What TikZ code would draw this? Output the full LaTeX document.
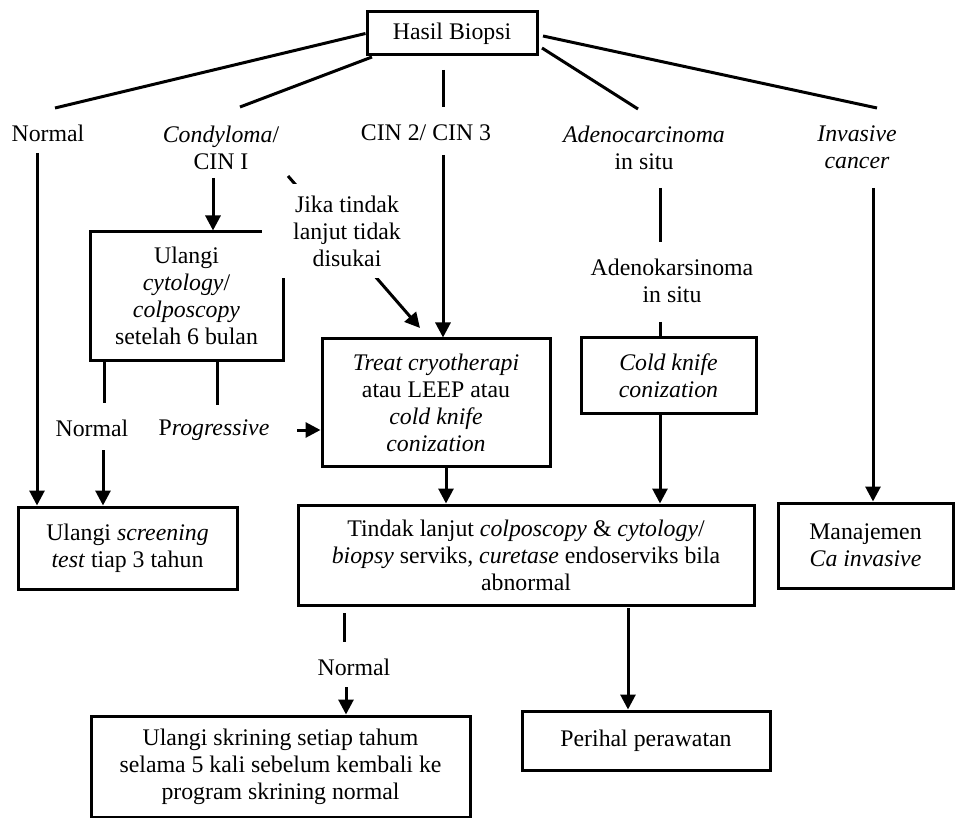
\documentclass[tikz,border=0pt]{standalone}
\usepackage{fontspec}
\setmainfont{Liberation Serif}
\usetikzlibrary{arrows.meta}

\begin{document}
\begin{tikzpicture}[x=1pt,y=-1pt,
  every node/.style={font=\fontsize{23.8}{27}\selectfont, align=center, inner sep=0pt},
  box/.style={draw, line width=3pt, fill=white},
  link/.style={line width=3pt},
  arr/.style={line width=3pt, -{Triangle[length=15pt,width=15pt]}},
]
\useasboundingbox (0,0) rectangle (956,818);

% ---- boxes ----
\node[box, minimum width=170pt, minimum height=43pt] (hasil) at (452,33.5) {Hasil Biopsi};
\node[box, minimum width=193pt, minimum height=128pt] (ulcyt) at (186.5,296)
  {Ulangi\\ \textit{cytology}/\\ \textit{colposcopy}\\ setelah 6 bulan};
\node[box, minimum width=228pt, minimum height=127pt] (treat) at (436,402.5)
  {\textit{Treat cryotherapi}\\ atau LEEP atau\\ \textit{cold knife}\\ \textit{conization}};
\node[box, minimum width=175pt, minimum height=75pt] (cold) at (668.5,375.5)
  {\textit{Cold knife}\\ \textit{conization}};
\node[box, minimum width=219pt, minimum height=82pt] (scr) at (127.5,548)
  {Ulangi \textit{screening}\\ \textit{test} tiap 3 tahun};
\node[box, minimum width=456pt, minimum height=100pt] (tindak) at (526,555)
  {Tindak lanjut \textit{colposcopy} \& \textit{cytology}/\\ \textit{biopsy} serviks, \textit{curetase} endoserviks bila\\ abnormal};
\node[box, minimum width=175pt, minimum height=85pt] (manaj) at (865.5,545.5)
  {Manajemen\\ \textit{Ca invasive}};
\node[box, minimum width=379pt, minimum height=101pt] (skrin) at (280.5,766.5)
  {Ulangi skrining setiap tahum\\ selama 5 kali sebelum kembali ke\\ program skrining normal};
\node[box, minimum width=248pt, minimum height=59pt] (perihal) at (646,740.5) {Perihal perawatan};

% ---- plain labels ----
\node (normTop) at (48,133) {Normal};
\node (condy) at (221,147.5) {\textit{Condyloma}/\\ CIN I};
\node (cin) at (426,133) {CIN 2/ CIN 3};
\node (adeno) at (644,147.5) {\textit{Adenocarcinoma}\\ in situ};
\node (inv) at (857,147.5) {\textit{Invasive}\\ \textit{cancer}};
\node (adenok) at (672,281) {Adenokarsinoma\\ in situ};
\node (normMid) at (92,428) {Normal};
\node (prog) at (214,430) {P\textit{rogressive}};
\node (normBot) at (354,667) {Normal};

% ---- end points of the connectors ----
\coordinate (hN) at (55,108);
\coordinate (hCs) at (372,57);
\coordinate (hC) at (240,107);
\coordinate (hMs) at (443,70);
\coordinate (hM) at (443,107);
\coordinate (hAs) at (542,48);
\coordinate (hA) at (638,109);
\coordinate (hIs) at (543,36);
\coordinate (hI) at (877,108);

\coordinate (nT) at (37,153);
\coordinate (cT) at (213,178);
\coordinate (mT) at (443,155);
\coordinate (aT) at (660,188);
\coordinate (aB) at (660,242);
\coordinate (kT) at (660,322);
\coordinate (iT) at (873,188);
\coordinate (dS) at (288,176);
\coordinate (dE) at (420,328);

\coordinate (uL) at (104,360);
\coordinate (uLe) at (104,403);
\coordinate (nM) at (103,450);
\coordinate (uR) at (217,360);
\coordinate (uRe) at (217,405);
\coordinate (pE) at (297,430);

\coordinate (tN) at (344,613);
\coordinate (tNe) at (344,642);
\coordinate (nB) at (346,687);
\coordinate (tP) at (628,608);

% ---- connectors from the biopsy result ----
\draw[link] (hasil.west) -- (hN);
\draw[link] (hCs) -- (hC);
\draw[link] (hMs) -- (hM);
\draw[link] (hAs) -- (hA);
\draw[link] (hIs) -- (hI);

% ---- branches ----
\draw[arr] (nT) -- (nT |- scr.north);
\draw[arr] (cT) -- (cT |- ulcyt.north);
\draw[arr] (mT) -- (mT |- treat.north);
\draw[arr] (dS) -- (dE);
\draw[link] (aT) -- (aB);
\draw[link] (kT) -- (kT |- cold.north);
\draw[arr] (cold.south -| aT) -- (aT |- tindak.north);
\draw[arr] (iT) -- (iT |- manaj.north);

\draw[link] (uL) -- (uLe);
\draw[arr] (nM) -- (nM |- scr.north);
\draw[link] (uR) -- (uRe);
\draw[arr] (pE) -- (pE -| treat.west);
\draw[arr] (treat.south -| 446,0) -- (446,0 |- tindak.north);

\draw[link] (tN) -- (tNe);
\draw[arr] (nB) -- (nB |- skrin.north);
\draw[arr] (tP) -- (tP |- perihal.north);

% ---- note laid over the corner of the cytology box ----
\node[fill=white, minimum width=170pt, minimum height=94pt] (jika) at (347,231)
  {Jika tindak\\ lanjut tidak\\ disukai};
\end{tikzpicture}
\end{document}
